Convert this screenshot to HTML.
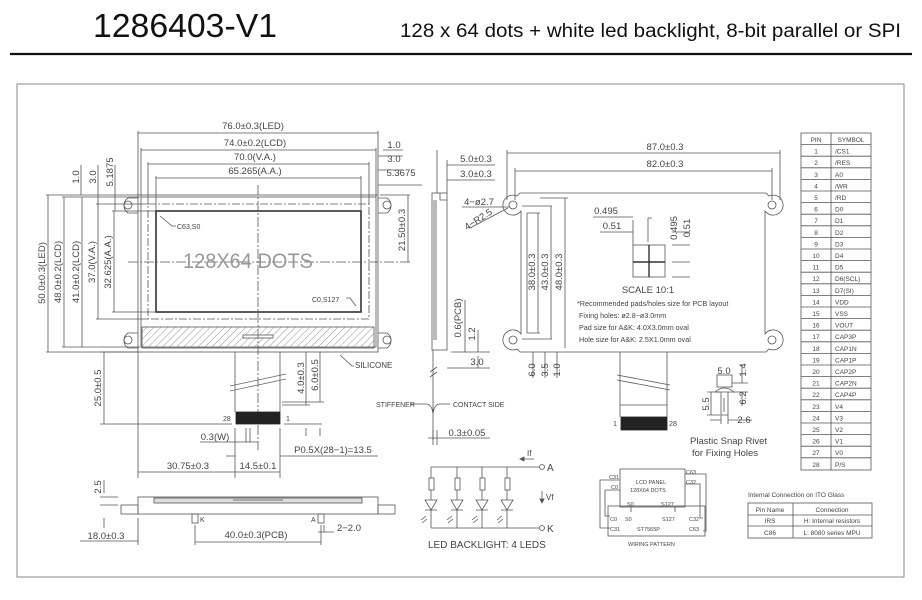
<!DOCTYPE html>
<html><head><meta charset="utf-8"><style>
html,body{margin:0;padding:0;background:#fff;}
svg{display:block;}
text{font-family:"Liberation Sans",sans-serif;fill:#444;}
</style></head><body>
<svg width="922" height="600" viewBox="0 0 922 600" xmlns="http://www.w3.org/2000/svg">
<defs>
<pattern id="h" width="5" height="5" patternUnits="userSpaceOnUse" patternTransform="rotate(45)">
<line x1="0" y1="0" x2="0" y2="5" stroke="#777" stroke-width="0.8"/>
</pattern>
</defs>
<!-- header -->
<text x="93" y="37" font-size="33" textLength="184" lengthAdjust="spacingAndGlyphs" style="fill:#111">1286403-V1</text>
<text x="400" y="37" font-size="19" textLength="501" lengthAdjust="spacingAndGlyphs" style="fill:#111">128 x 64 dots + white led backlight, 8-bit parallel or SPI</text>
<line x1="10" y1="54" x2="912" y2="54" stroke="#111" stroke-width="2.2"/>
<rect x="17" y="84" width="887" height="493" fill="none" stroke="#888" stroke-width="1"/>

<g stroke="#555" stroke-width="0.8" fill="none">
<!-- front view -->
<rect x="138" y="195" width="240" height="157"/>
<rect x="141" y="197" width="235" height="150"/>
<path d="M138 198 H128 A9 9 0 0 0 128 213 H138 M138 333 H128 A9 9 0 0 0 128 348 H138 M378 198 H387 A9 9 0 0 1 387 213 H378 M378 333 H387 A9 9 0 0 1 387 348 H378"/>
<circle cx="128" cy="205" r="4"/><circle cx="128" cy="340" r="4"/>
<circle cx="387" cy="205" r="4"/><circle cx="387" cy="340" r="4"/>
<rect x="148" y="204" width="221" height="115" stroke-dasharray="8 2 2 2"/>
<rect x="156" y="211" width="205" height="101" stroke="#333" stroke-width="1.6"/>
<rect x="142" y="327" width="232" height="21" fill="url(#h)"/>
<rect x="243" y="335" width="30" height="3" fill="#fff"/>
<line x1="258" y1="185" x2="258" y2="450" stroke-dasharray="10 2 2 2"/>
<line x1="128" y1="262" x2="410" y2="262" stroke-dasharray="10 2 2 2"/>
<!-- top dims -->
<path d="M138 133 H378 M141 150 H376 M148 164 H369 M156 178 H361"/>
<path d="M138 131 V195 M378 131 V195 M141 148 V197 M376 148 V197 M148 162 V204 M369 162 V204 M156 176 V211 M361 176 V211"/>
<path d="M378 156 H403 M378 170 H403 M378 185 H422 M383 150 H403"/>
<!-- left dims -->
<path d="M48 195 V352 M64 197 V347 M82 197 V347 M98 204 V319 M114 211 V312"/>
<path d="M46 195 H138 M62 197 H138 M80 197 H140 M96 204 H148 M112 211 H156 M46 352 H138 M62 347 H138 M80 347 H140 M96 319 H148 M112 312 H156"/>
<path d="M81 165 V195 M98 165 V204 M115 165 V211"/>
<path d="M408 195 V262 M380 195 H410"/>
<path d="M160 216 L172 226 H176 M356 306 L350 298 H346 M340 355 L352 366 H354"/>
<!-- FPC -->
<path d="M235 352 V412 M280 352 V412"/>
<path d="M230 386 L286 374 M230 391 L286 379" stroke="#666"/>
<rect x="236" y="412" width="44" height="12" fill="#222" stroke="#222"/>
<path d="M104 352 V424 M100 424 H232 M100 352 H138"/>
<path d="M306 352 V405 M320 352 V402 M282 405 H310 M282 402 H324 M284 424 H322 M306 428 V436 M320 428 V436"/>
<path d="M235 428 V478 M280 428 V478 M246 428 V442 M250 428 V442 M200 442 H258 M226 456 H235 M280 456 H378"/>
<path d="M138 352 V478 M138 472 H280"/>
<!-- bottom side view -->
<rect x="138" y="497" width="240" height="17"/>
<rect x="154" y="498" width="208" height="5" fill="#ddd"/>
<path d="M233 500 H283"/>
<rect x="121" y="505" width="17" height="9"/><rect x="378" y="505" width="17" height="9"/>
<rect x="192" y="514" width="6" height="9"/><rect x="318" y="514" width="6" height="9"/>
<path d="M104 480 V493 M104 518 V528 M100 497 H118 M100 505 H118"/>
<path d="M80 541 H138 M138 518 V545 M195 525 V545 M321 525 V545 M195 542 H321 M318 532 H334 M324 532 V525"/>

<!-- side view -->
<rect x="432" y="193" width="15" height="157"/>
<path d="M434 200 V340 M436 200 V340 M440 193 V200 H447"/>
<path d="M433 350 V440 M430 372 L437 367 M430 377 L437 372 M426 404 Q432 404 433 414 Q434 404 440 404 M440 404 H450 M410 404 H426"/>
<path d="M447 165 H495 M447 180 H495 M437 150 V193 M447 160 V193"/>
<path d="M451 352 H490 M465 300 V352 M478 330 V352 M447 368 H490 M478 356 V368 M428 438 H490 M433 430 V445 M437 430 V445"/>

<!-- PCB back -->
<path d="M766 193 H520 L517 196 A10 10 0 1 0 521 211 V334 A10 10 0 1 0 517 349 L520 352 H766 L769 349 A10 10 0 1 0 765 334 V211 A10 10 0 1 0 769 196 Z"/>
<circle cx="513" cy="205" r="4"/><circle cx="772" cy="205" r="4"/>
<circle cx="513" cy="340" r="4"/><circle cx="772" cy="340" r="4"/>
<path d="M507 150 V200 M780 150 V200 M507 153 H780 M515 168 V200 M772 168 V200 M515 171 H772"/>
<path d="M527 213 V333 M527 213 H540 M527 333 H540 M522 206 H552 M522 339 H552 M565 198 V348 M538 213 V333 M551 206 V339 M540 198 H568"/>
<path d="M462 207 H510 M470 228 L508 208"/>
<rect x="633" y="245" width="32" height="32"/>
<path d="M649 245 V277 M633 262 H665" stroke="#333" stroke-width="1.4"/>
<path d="M593 217 H633 M600 232 H633 M633 220 V245 M648 218 V242 M648 218 H652 M672 232 H690 M672 245 H690 M672 262 H690 M672 277 H690"/>
<path d="M620 352 V417 M667 352 V417 M617 375 L670 385 M617 380 L670 390 M620 405 H667"/>
<rect x="621" y="417" width="46" height="13" fill="#222" stroke="#222"/>
<path d="M533 352 V378 M545 352 V378 M557 352 V378"/>
<!-- rivet -->
<rect x="717" y="375" width="15" height="12"/>
<path d="M715 392 Q724 384 734 392 Z M721 392 V415 H728 V392 M724 398 V412"/>
<path d="M732 383 H748 M742 365 V383 M733 392 H748 M742 392 V406 M707 392 H720 M707 415 H720 M711 392 V415 M710 420 H721 M728 420 H752 M721 415 V424 M728 415 V424"/>

<!-- LED circuit -->
<path d="M431 467 H539 M431 528 H539 M431 467 V528 M457 467 V528 M482 467 V528 M507 467 V528"/>
<rect x="429" y="478" width="5" height="12" fill="#fff"/><rect x="455" y="478" width="5" height="12" fill="#fff"/>
<rect x="480" y="478" width="5" height="12" fill="#fff"/><rect x="505" y="478" width="5" height="12" fill="#fff"/>
<path d="M425 500 H437 L431 510 Z M425 510 H437 M451 500 H463 L457 510 Z M451 510 H463 M476 500 H488 L482 510 Z M476 510 H488 M501 500 H513 L507 510 Z M501 510 H513" fill="#fff"/>
<path d="M421 520 L426 516 M422 523 L427 519 M447 520 L452 516 M448 523 L453 519 M472 520 L477 516 M473 523 L478 519 M497 520 L502 516 M498 523 L503 519"/>
<circle cx="542" cy="467" r="2.5" fill="#fff"/><circle cx="542" cy="528" r="2.5" fill="#fff"/>
<path d="M520 459 H534 M542 491 V503"/>
<path d="M520 459 L524 457 V461 Z M542 503 L540 499 H544 Z" fill="#555"/>
<!-- wiring -->
<rect x="620" y="469" width="65" height="38"/>
<rect x="608" y="506" width="97" height="30"/>
<path d="M620 480 H600 V528 H610 M620 490 H605 V516 H610 M685 474 H706 V531 H703 M685 484 H700 V518 H703 M631 507 V512 M675 507 V512"/>
<!-- internal connection table -->
<rect x="748" y="503" width="124" height="35"/>
<path d="M748 515 H872 M748 526 H872 M793 503 V538"/>
<!-- pin table -->
<rect x="801" y="133" width="70" height="337"/>
<path d="M831 133 V470"/>
</g>
<g stroke="#555" stroke-width="0.8">
<path d="M801 144.6H871M801 156.2H871M801 167.8H871M801 179.4H871M801 191H871M801 202.6H871M801 214.2H871M801 225.8H871M801 237.4H871M801 249H871M801 260.6H871M801 272.2H871M801 283.8H871M801 295.4H871M801 307H871M801 318.6H871M801 330.2H871M801 341.8H871M801 353.4H871M801 365H871M801 376.6H871M801 388.2H871M801 399.8H871M801 411.4H871M801 423H871M801 434.6H871M801 446.2H871M801 457.8H871"/>
</g>

<!-- texts -->
<g font-size="9.5" text-anchor="middle">
<text x="253" y="129">76.0±0.3(LED)</text>
<text x="255" y="146">74.0±0.2(LCD)</text>
<text x="255" y="160">70.0(V.A.)</text>
<text x="255" y="174">65.265(A.A.)</text>
<text x="394" y="148">1.0</text>
<text x="394" y="162">3.0</text>
<text x="401" y="176">5.3675</text>
</g>
<text x="183" y="268" font-size="21" textLength="130" lengthAdjust="spacingAndGlyphs" style="fill:#999">128X64  DOTS</text>
<g font-size="7">
<text x="177" y="229">C63,S0</text>
<text x="312" y="302">C0,S127</text>
</g>
<text x="355" y="368" font-size="8">SILICONE</text>
<g font-size="9.5" text-anchor="middle">
<text transform="translate(45 273) rotate(-90)">50.0±0.3(LED)</text>
<text transform="translate(61 272) rotate(-90)">48.0±0.2(LCD)</text>
<text transform="translate(79 272) rotate(-90)">41.0±0.2(LCD)</text>
<text transform="translate(95 262) rotate(-90)">37.0(V.A.)</text>
<text transform="translate(111 262) rotate(-90)">32.625(A.A.)</text>
<text transform="translate(79 177) rotate(-90)">1.0</text>
<text transform="translate(96 177) rotate(-90)">3.0</text>
<text transform="translate(113 172) rotate(-90)">5.1875</text>
<text transform="translate(405 230) rotate(-90)">21.50±0.3</text>
<text transform="translate(101 388) rotate(-90)">25.0±0.5</text>
<text transform="translate(304 378) rotate(-90)">4.0±0.3</text>
<text transform="translate(318 375) rotate(-90)">6.0±0.5</text>
<text transform="translate(101 487) rotate(-90)">2.5</text>
<text x="215" y="440">0.3(W)</text>
<text x="333" y="453">P0.5X(28−1)=13.5</text>
<text x="188" y="469">30.75±0.3</text>
<text x="258" y="469">14.5±0.1</text>
<text x="106" y="539">18.0±0.3</text>
<text x="256" y="538">40.0±0.3(PCB)</text>
<text x="349" y="531">2−2.0</text>
</g>
<g font-size="7">
<text x="223" y="421">28</text><text x="286" y="421">1</text>
<text x="200" y="522">K</text><text x="311" y="522">A</text>
<text x="376" y="407">STIFFENER</text>
<text x="453" y="407">CONTACT SIDE</text>
</g>
<g font-size="9.5" text-anchor="middle">
<text x="476" y="162">5.0±0.3</text>
<text x="476" y="177">3.0±0.3</text>
<text transform="translate(461 318) rotate(-90)">0.6(PCB)</text>
<text transform="translate(475 334) rotate(-90)">1.2</text>
<text x="477" y="365">3.0</text>
<text x="467" y="436">0.3±0.05</text>
<text x="665" y="150">87.0±0.3</text>
<text x="665" y="167">82.0±0.3</text>
<text x="479" y="205">4−ø2.7</text>
<text transform="translate(480 222) rotate(-33)">4−R2.5</text>
<text x="606" y="214">0.495</text>
<text x="612" y="229">0.51</text>
<text transform="translate(677 228) rotate(-90)">0.495</text>
<text transform="translate(690 228) rotate(-90)">0.51</text>
<text transform="translate(535 272) rotate(-90)">38.0±0.3</text>
<text transform="translate(548 272) rotate(-90)">43.0±0.3</text>
<text transform="translate(562 272) rotate(-90)">48.0±0.3</text>
<text transform="translate(535 370) rotate(-90)">6.0</text>
<text transform="translate(548 370) rotate(-90)">3.5</text>
<text transform="translate(560 370) rotate(-90)">1.0</text>
<text x="648" y="293">SCALE 10:1</text>
<text x="724" y="374">5.0</text>
<text transform="translate(746 370) rotate(-90)">1.4</text>
<text transform="translate(746 398) rotate(-90)">6.2</text>
<text transform="translate(709 404) rotate(-90)">5.5</text>
<text x="744" y="423">2.6</text>
</g>
<g font-size="7.2">
<text x="577" y="306">*Recommended pads/holes size for PCB layout</text>
<text x="579" y="318">Fixing holes: ø2.8−ø3.0mm</text>
<text x="579" y="330">Pad size for A&amp;K: 4.0X3.0mm oval</text>
<text x="579" y="342">Hole size for A&amp;K: 2.5X1.0mm oval</text>
<text x="613" y="426">1</text><text x="669" y="426">28</text>
</g>
<g font-size="9.5">
<text x="690" y="444">Plastic Snap Rivet</text>
<text x="692" y="456">for Fixing Holes</text>
</g>
<g font-size="10">
<text x="547" y="471">A</text><text x="547" y="532">K</text>
<text x="527" y="456" font-size="8">If</text>
<text x="546" y="500" font-size="8">Vf</text>
<text x="428" y="548">LED BACKLIGHT: 4 LEDS</text>
</g>
<g font-size="5.5">
<text x="636" y="484">LCD PANEL</text>
<text x="630" y="492">128X64 DOTS</text>
<text x="609" y="479">C31</text><text x="611" y="489">C0</text>
<text x="686" y="474">C63</text><text x="686" y="484">C32</text>
<text x="627" y="506">S0</text><text x="661" y="506">S127</text>
<text x="610" y="521">C0</text><text x="610" y="531">C31</text>
<text x="625" y="521">S0</text><text x="662" y="521">S127</text>
<text x="689" y="521">C32</text><text x="689" y="531">C63</text>
<text x="637" y="531">ST7565P</text>
<text x="628" y="546">WIRING PATTERN</text>
</g>
<g font-size="6.5">
<text x="748" y="497">Internal Connection on ITO Glass</text>
<text x="770" y="512" text-anchor="middle">Pin Name</text>
<text x="832" y="512" text-anchor="middle">Connection</text>
<text x="770" y="523" text-anchor="middle">IRS</text>
<text x="832" y="523" text-anchor="middle">H: Internal resistors</text>
<text x="770" y="535" text-anchor="middle">C86</text>
<text x="832" y="535" text-anchor="middle">L: 8080 series MPU</text>
</g>
<g font-size="6.5">
<text x="816" y="142" text-anchor="middle">PIN</text><text x="851" y="142" text-anchor="middle">SYMBOL</text>
<g text-anchor="middle">
<text x="816" y="153.6">1</text><text x="816" y="165.2">2</text><text x="816" y="176.8">3</text><text x="816" y="188.4">4</text><text x="816" y="200">5</text><text x="816" y="211.6">6</text><text x="816" y="223.2">7</text><text x="816" y="234.8">8</text><text x="816" y="246.4">9</text><text x="816" y="258">10</text><text x="816" y="269.6">11</text><text x="816" y="281.2">12</text><text x="816" y="292.8">13</text><text x="816" y="304.4">14</text><text x="816" y="316">15</text><text x="816" y="327.6">16</text><text x="816" y="339.2">17</text><text x="816" y="350.8">18</text><text x="816" y="362.4">19</text><text x="816" y="374">20</text><text x="816" y="385.6">21</text><text x="816" y="397.2">22</text><text x="816" y="408.8">23</text><text x="816" y="420.4">24</text><text x="816" y="432">25</text><text x="816" y="443.6">26</text><text x="816" y="455.2">27</text><text x="816" y="466.8">28</text>
</g>
<text x="835" y="153.6">/CS1</text><text x="835" y="165.2">/RES</text><text x="835" y="176.8">A0</text><text x="835" y="188.4">/WR</text><text x="835" y="200">/RD</text><text x="835" y="211.6">D0</text><text x="835" y="223.2">D1</text><text x="835" y="234.8">D2</text><text x="835" y="246.4">D3</text><text x="835" y="258">D4</text><text x="835" y="269.6">D5</text><text x="835" y="281.2">D6(SCL)</text><text x="835" y="292.8">D7(SI)</text><text x="835" y="304.4">VDD</text><text x="835" y="316">VSS</text><text x="835" y="327.6">VOUT</text><text x="835" y="339.2">CAP3P</text><text x="835" y="350.8">CAP1N</text><text x="835" y="362.4">CAP1P</text><text x="835" y="374">CAP2P</text><text x="835" y="385.6">CAP2N</text><text x="835" y="397.2">CAP4P</text><text x="835" y="408.8">V4</text><text x="835" y="420.4">V3</text><text x="835" y="432">V2</text><text x="835" y="443.6">V1</text><text x="835" y="455.2">V0</text><text x="835" y="466.8">P/S</text>
</g>
</svg>
</body></html>
